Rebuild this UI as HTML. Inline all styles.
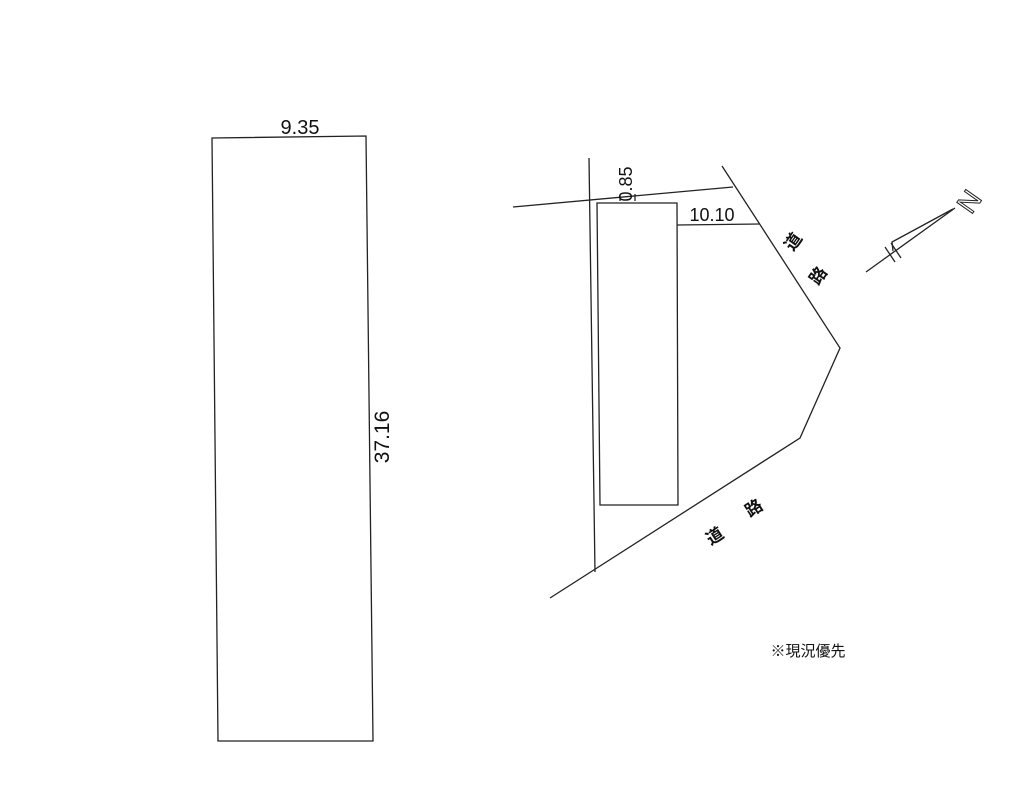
<!DOCTYPE html>
<html><head><meta charset="utf-8"><style>
html,body{margin:0;padding:0;background:#fff;}
svg{display:block}
text{font-family:"Liberation Sans","Noto Sans CJK JP",sans-serif;fill:#111}
</style></head><body>
<svg width="1024" height="803" viewBox="0 0 1024 803" xmlns="http://www.w3.org/2000/svg">
<g stroke="#222" stroke-width="1.3" fill="none">
<polygon points="212,138 366,136 373,741 218,741"/>
<line x1="589" y1="158" x2="595" y2="572"/>
<line x1="513" y1="207" x2="733" y2="187"/>
<polyline points="722,166 840,348 800,438 550,598"/>
<polygon points="597,203 677,203 678,505 600,505"/>
<line x1="620" y1="201" x2="620" y2="195"/>
<line x1="635" y1="201" x2="635" y2="194"/>
<line x1="677" y1="225" x2="760" y2="224"/>
<line x1="866" y1="272" x2="955" y2="208"/>
<polyline points="953,209 892,242 893,251"/>
<line x1="885" y1="247" x2="895" y2="262"/>
<line x1="891" y1="243" x2="901" y2="258"/>
</g>
<text x="300" y="134" font-size="20" text-anchor="middle">9.35</text>
<text transform="translate(389,437) rotate(-90)" font-size="21" text-anchor="middle">37.16</text>
<text transform="translate(632,184) rotate(-90)" font-size="18" text-anchor="middle">0.85</text>
<text x="712" y="221" font-size="18" text-anchor="middle">10.10</text>
<text transform="translate(798,245) rotate(-55)" font-size="17" text-anchor="middle" font-weight="bold">道</text>
<text transform="translate(823,279) rotate(-55)" font-size="17" text-anchor="middle" font-weight="bold">路</text>
<text transform="translate(718,541) rotate(-33)" font-size="17" text-anchor="middle" font-weight="bold">道</text>
<text transform="translate(757,513) rotate(-33)" font-size="17" text-anchor="middle" font-weight="bold">路</text>
<text transform="translate(977,207) rotate(-55)" font-size="28" text-anchor="middle" style="fill:#fff;stroke:#222;stroke-width:1">N</text>
<text x="808" y="656" font-size="15" text-anchor="middle">※現況優先</text>
</svg>
</body></html>
